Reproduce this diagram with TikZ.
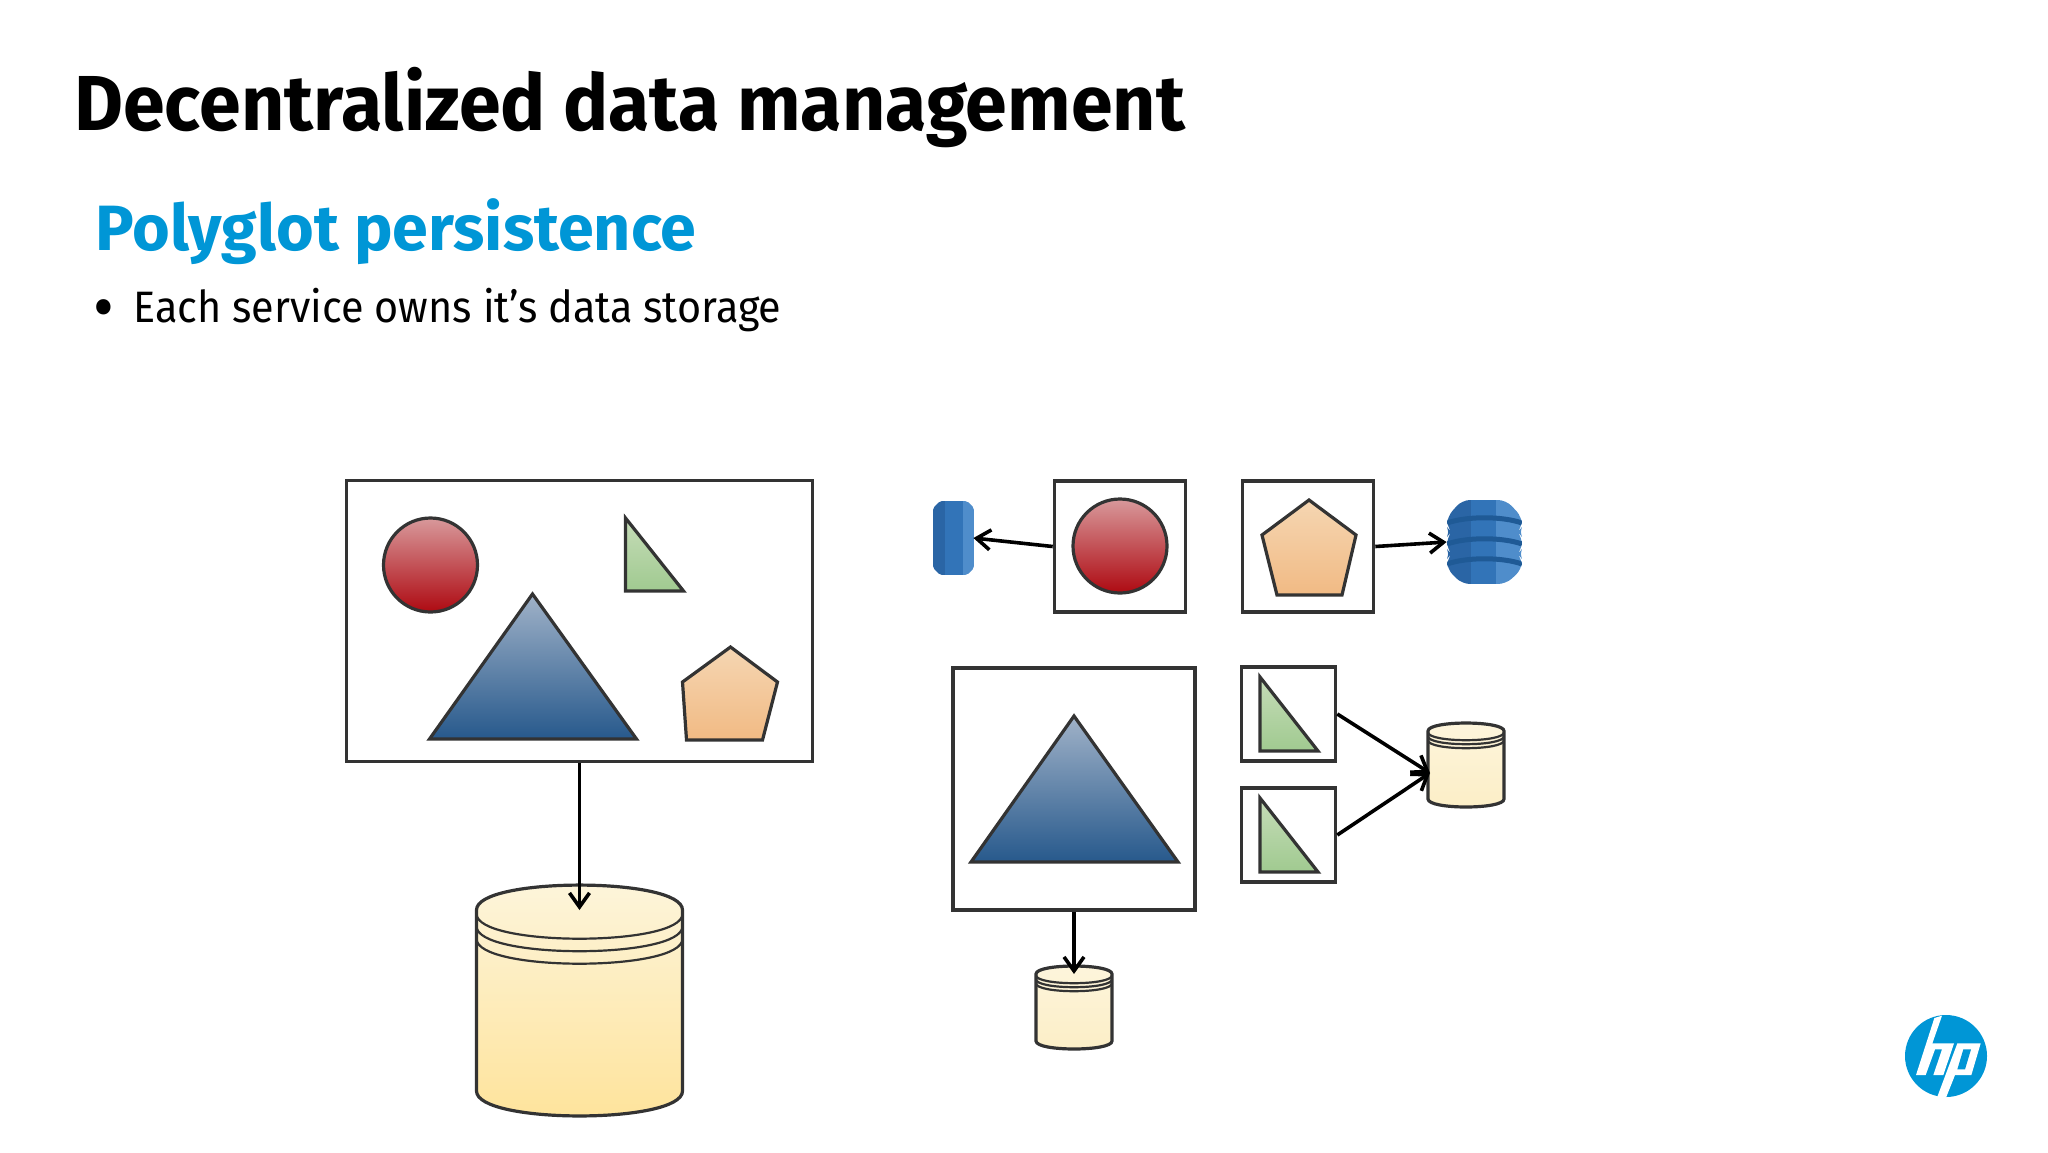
\documentclass[tikz,border=0pt]{standalone}
\usepackage{fontspec}
\setmainfont[FakeStretch=0.94]{Fira Sans}
\newfontfamily\titlefont[FakeStretch=0.965]{Fira Sans}
\newfontfamily\subfont[FakeStretch=1.01]{Fira Sans}
\usetikzlibrary{arrows.meta}
\usetikzlibrary{calc}
\definecolor{hpblue}{HTML}{0096D6}
\definecolor{edge}{HTML}{333333}
\definecolor{redtop}{HTML}{D8999B}
\definecolor{redlow}{HTML}{AE0A12}
\definecolor{bluetop}{HTML}{A0B2C8}
\definecolor{bluelow}{HTML}{27598C}
\definecolor{greentop}{HTML}{C6DCB8}
\definecolor{greenlow}{HTML}{A0CA90}
\definecolor{pentop}{HTML}{F5D6B2}
\definecolor{penlow}{HTML}{F1BA84}
\definecolor{dbtop}{HTML}{FDF5DC}
\definecolor{dblow}{HTML}{FEE39A}
\definecolor{dbsmall}{HTML}{FCEEC6}
\definecolor{awsa}{HTML}{2A65A5}
\definecolor{awsb}{HTML}{3274B8}
\definecolor{awsc}{HTML}{4F8DCB}
\definecolor{awsd}{HTML}{1F5A96}
\tikzset{
    svcbox/.style={draw=edge,line width=1.8pt,fill=white,inner sep=0pt},
    figline/.style={draw=edge,line width=1.6pt,line join=miter},
    redball/.style={circle,figline,inner sep=0pt,minimum size=47pt,top color=redtop,bottom color=redlow},
    bluetri/.style={figline,top color=bluetop,bottom color=bluelow},
    greentri/.style={figline,top color=greentop,bottom color=greenlow},
    orangepent/.style={figline,top color=pentop,bottom color=penlow},
    flow/.style={->,>={Straight Barb[length=7pt,width=10pt]},line width=1.8pt,black}
}
\newcommand{\dbcyl}[8]{
    % name, centre x, side top, side bottom, rx, ry, top colour, bottom colour
    \pgfmathsetmacro{\lx}{#2-#5}
    \pgfmathsetmacro{\rx}{#2+#5}
    \pgfmathsetmacro{\cupy}{#3-1.33*#6}
    \pgfmathsetmacro{\cdny}{#3+1.33*#6}
    \pgfmathsetmacro{\bdny}{#4+1.33*#6}
    \draw[figline,top color=#7,bottom color=#8] (\lx,#3) .. controls (\lx,\cupy) and (\rx,\cupy) .. (\rx,#3)
        -- (\rx,#4) .. controls (\rx,\bdny) and (\lx,\bdny) .. (\lx,#4) -- cycle;
    \foreach \off in {0,1,2} {
        \pgfmathsetmacro{\sy}{#3+(\off*0.5+0.15)*#6}
        \pgfmathsetmacro{\cy}{\cdny+(\off*0.5+0.15)*#6}
        \draw[edge,line width=1.1pt] (\lx,\sy) .. controls (\lx,\cy) and (\rx,\cy) .. (\rx,\sy);
    }
    \node[inner sep=0pt] (#1) at (#2,#3) {};
}
\begin{document}
\begin{tikzpicture}[x=0.5pt,y=-0.5pt]
    \useasboundingbox (0,0) rectangle (2048,1152);

    \node[anchor=base west,inner sep=0pt,font=\fontsize{39}{39}\titlefont\bfseries] (title) at (74,130) {Decentralized data management};
    \node[anchor=base west,inner sep=0pt,text=hpblue,font=\fontsize{32}{32}\subfont\bfseries] (subtitle) at (95,250) {Polyglot persistence};
    \node[anchor=base west,inner sep=0pt,font=\fontsize{34}{34}\selectfont] (bullet) at (93,330) {•};
    \node[anchor=base west,inner sep=0pt,font=\fontsize{22}{22}\selectfont] (point) at (133,322) {Each service owns it’s data storage};

    \node[svcbox,minimum width=233pt,minimum height=140.5pt] (mono) at (579.5,621) {};
    \node[redball] (monoball) at (430.5,565) {};
    \draw[greentri] (625.5,518) -- (625.5,591) -- (683.5,591) -- cycle;
    \draw[bluetri] (532.5,594) -- (429.5,739) -- (636.5,739) -- cycle;
    \draw[orangepent] (730.5,647) -- (777.5,682) -- (762.5,740) -- (686.5,740) -- (682.5,682) -- cycle;

    \dbcyl{monodb}{579.5}{910}{1091}{103}{25}{dbtop}{dblow}
    \coordinate (monotip) at (579.5,910);
    \draw[flow] (mono.south) -- (monotip);

    \node[svcbox,minimum width=65.5pt,minimum height=65.5pt] (ballsvc) at (1120,546.5) {};
    \node[redball] (ball) at (1120,546) {};
    \node[svcbox,minimum width=65.5pt,minimum height=65.5pt] (pentsvc) at (1308,546.5) {};
    \draw[orangepent] (1309,500) -- (1356,535) -- (1342,595) -- (1277,595) -- (1262,535) -- cycle;

    \node[inner sep=0pt,minimum width=20pt,minimum height=37pt] (rds) at (953,538) {};
    \begin{scope}[shift={(-5,-2)}]
        \clip[rounded corners=1pt] (938,510) -- (945,503) -- (972,503) -- (979,510) -- (979,570) -- (972,577) -- (945,577) -- (938,570) -- cycle;
        \fill[awsa] (938,503) rectangle (950,577);
        \fill[awsb] (950,503) rectangle (968,577);
        \fill[awsc] (968,503) rectangle (979,577);
    \end{scope}
    \draw[flow] (ballsvc.west) -- (rds.east);

    \node[inner sep=0pt,minimum width=37pt,minimum height=42pt] (dynamo) at (1484,542) {};
    \begin{scope}[shift={(-8,-3)}]
        \clip[rounded corners=4pt] (1455,520) -- (1470,503) -- (1514,503) -- (1530,520) -- (1530,530) -- (1526,535) -- (1530,540) -- (1530,552) -- (1526,557) -- (1530,562) -- (1530,572) -- (1514,587) -- (1470,587) -- (1455,572) -- (1455,562) -- (1459,557) -- (1455,552) -- (1455,540) -- (1459,535) -- (1455,530) -- cycle;
        \fill[awsa] (1455,503) rectangle (1479,587);
        \fill[awsb] (1479,503) rectangle (1504,587);
        \fill[awsc] (1504,503) rectangle (1530,587);
        \foreach \gy in {522,543,563} {
            \draw[awsd,line width=2.5pt] (1455,\gy+4) .. controls (1475,\gy-3) and (1510,\gy-3) .. (1530,\gy+4);
        }
    \end{scope}
    \draw[flow] (pentsvc.east) -- (dynamo.west);

    \node[svcbox,minimum width=121pt,minimum height=121pt] (trisvc) at (1074,789) {};
    \draw[bluetri] (1074,716) -- (971,862) -- (1178,862) -- cycle;
    \dbcyl{tridb}{1074}{974}{1041}{38}{8}{dbtop}{dbsmall}
    \coordinate (tritip) at (1074,974);
    \draw[flow] (trisvc.south) -- (tritip);

    \node[svcbox,minimum width=47pt,minimum height=47pt] (wedgea) at (1288.5,714) {};
    \draw[greentri] (1260,677) -- (1260,751) -- (1318,751) -- cycle;
    \node[svcbox,minimum width=47pt,minimum height=47pt] (wedgeb) at (1288.5,835) {};
    \draw[greentri] (1260,798) -- (1260,872) -- (1318,872) -- cycle;
    \dbcyl{wedgedb}{1466}{731}{799}{38}{8}{dbtop}{dbsmall}
    \coordinate (wedgetip) at (1430,773);
    \draw[flow] (wedgea.east) -- (wedgetip);
    \draw[flow] (wedgeb.east) -- (wedgetip);

    \fill[hpblue] (1946,1056) circle[radius=41];
    \begin{scope}[shift={(1880,1000)},scale=1/3]
        \fill[white] (163,54) -- (186,47) -- (157,130) -- (222,130) -- (190,225) -- (160,225) -- (186,148) -- (165,148) -- (137,225) -- (108,225) -- cycle;
        \fill[white] (232,130) -- (302,130) -- (274,225) -- (225,225) -- (198,293) -- (172,290) -- cycle;
        \fill[hpblue] (250,148) -- (273,148) -- (255,208) -- (232,208) -- cycle;
    \end{scope}
\end{tikzpicture}
\end{document}
